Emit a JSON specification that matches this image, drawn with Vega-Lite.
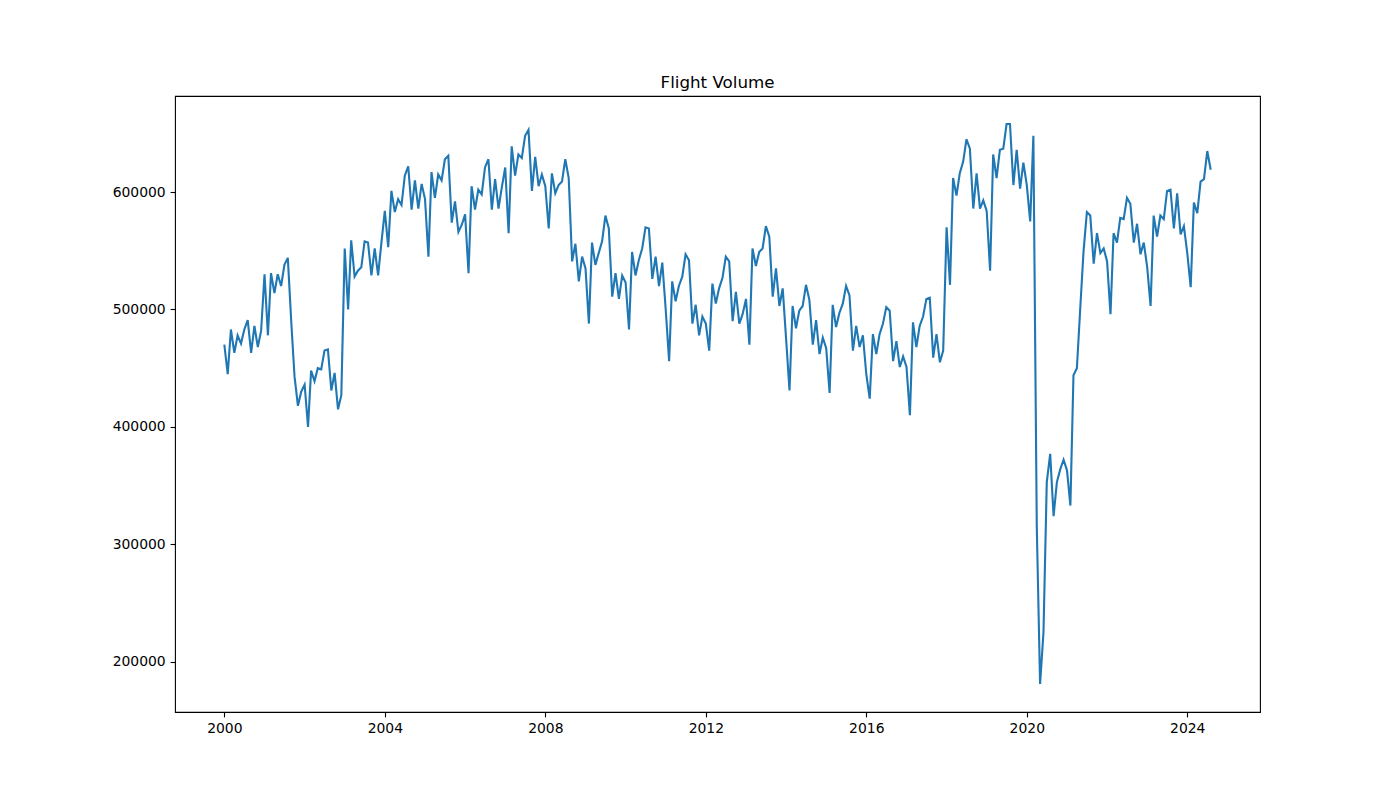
{
  "$schema": "https://vega.github.io/schema/vega-lite/v6.json",
  "autosize": {"type": "none"},
  "width": 1085,
  "height": 616,
  "padding": {"left": 175, "top": 96, "right": 140, "bottom": 88},
  "background": "white",
  "title": {"text": "Flight Volume", "font": "DejaVu Sans", "fontSize": 16.7, "fontWeight": "normal", "color": "black", "offset": 4},
  "data": {"values": [
    {"date":"2000-01-01","flights":470000},{"date":"2000-02-01","flights":445000},{"date":"2000-03-01","flights":483000},{"date":"2000-04-01","flights":463000},{"date":"2000-05-01","flights":478000},{"date":"2000-06-01","flights":471000},{"date":"2000-07-01","flights":483000},{"date":"2000-08-01","flights":491000},{"date":"2000-09-01","flights":463000},{"date":"2000-10-01","flights":486000},{"date":"2000-11-01","flights":468000},{"date":"2000-12-01","flights":482000},
    {"date":"2001-01-01","flights":530000},{"date":"2001-02-01","flights":478000},{"date":"2001-03-01","flights":531000},{"date":"2001-04-01","flights":514000},{"date":"2001-05-01","flights":530000},{"date":"2001-06-01","flights":520000},{"date":"2001-07-01","flights":538000},{"date":"2001-08-01","flights":544000},{"date":"2001-09-01","flights":490000},{"date":"2001-10-01","flights":443000},{"date":"2001-11-01","flights":418000},{"date":"2001-12-01","flights":430000},
    {"date":"2002-01-01","flights":436000},{"date":"2002-02-01","flights":400000},{"date":"2002-03-01","flights":448000},{"date":"2002-04-01","flights":439000},{"date":"2002-05-01","flights":450000},{"date":"2002-06-01","flights":449000},{"date":"2002-07-01","flights":465000},{"date":"2002-08-01","flights":466000},{"date":"2002-09-01","flights":431000},{"date":"2002-10-01","flights":446000},{"date":"2002-11-01","flights":415000},{"date":"2002-12-01","flights":427000},
    {"date":"2003-01-01","flights":552000},{"date":"2003-02-01","flights":500000},{"date":"2003-03-01","flights":559000},{"date":"2003-04-01","flights":528000},{"date":"2003-05-01","flights":533000},{"date":"2003-06-01","flights":536000},{"date":"2003-07-01","flights":558000},{"date":"2003-08-01","flights":557000},{"date":"2003-09-01","flights":529000},{"date":"2003-10-01","flights":552000},{"date":"2003-11-01","flights":529000},{"date":"2003-12-01","flights":557000},
    {"date":"2004-01-01","flights":584000},{"date":"2004-02-01","flights":553000},{"date":"2004-03-01","flights":601000},{"date":"2004-04-01","flights":583000},{"date":"2004-05-01","flights":594000},{"date":"2004-06-01","flights":589000},{"date":"2004-07-01","flights":614000},{"date":"2004-08-01","flights":622000},{"date":"2004-09-01","flights":585000},{"date":"2004-10-01","flights":610000},{"date":"2004-11-01","flights":586000},{"date":"2004-12-01","flights":607000},
    {"date":"2005-01-01","flights":594000},{"date":"2005-02-01","flights":545000},{"date":"2005-03-01","flights":617000},{"date":"2005-04-01","flights":595000},{"date":"2005-05-01","flights":615000},{"date":"2005-06-01","flights":610000},{"date":"2005-07-01","flights":628000},{"date":"2005-08-01","flights":631000},{"date":"2005-09-01","flights":574000},{"date":"2005-10-01","flights":592000},{"date":"2005-11-01","flights":566000},{"date":"2005-12-01","flights":572000},
    {"date":"2006-01-01","flights":581000},{"date":"2006-02-01","flights":531000},{"date":"2006-03-01","flights":605000},{"date":"2006-04-01","flights":585000},{"date":"2006-05-01","flights":602000},{"date":"2006-06-01","flights":598000},{"date":"2006-07-01","flights":621000},{"date":"2006-08-01","flights":628000},{"date":"2006-09-01","flights":585000},{"date":"2006-10-01","flights":611000},{"date":"2006-11-01","flights":586000},{"date":"2006-12-01","flights":604000},
    {"date":"2007-01-01","flights":621000},{"date":"2007-02-01","flights":565000},{"date":"2007-03-01","flights":639000},{"date":"2007-04-01","flights":614000},{"date":"2007-05-01","flights":632000},{"date":"2007-06-01","flights":629000},{"date":"2007-07-01","flights":648000},{"date":"2007-08-01","flights":653000},{"date":"2007-09-01","flights":601000},{"date":"2007-10-01","flights":630000},{"date":"2007-11-01","flights":605000},{"date":"2007-12-01","flights":615000},
    {"date":"2008-01-01","flights":605000},{"date":"2008-02-01","flights":569000},{"date":"2008-03-01","flights":616000},{"date":"2008-04-01","flights":599000},{"date":"2008-05-01","flights":606000},{"date":"2008-06-01","flights":609000},{"date":"2008-07-01","flights":628000},{"date":"2008-08-01","flights":612000},{"date":"2008-09-01","flights":541000},{"date":"2008-10-01","flights":556000},{"date":"2008-11-01","flights":524000},{"date":"2008-12-01","flights":545000},
    {"date":"2009-01-01","flights":535000},{"date":"2009-02-01","flights":488000},{"date":"2009-03-01","flights":557000},{"date":"2009-04-01","flights":538000},{"date":"2009-05-01","flights":548000},{"date":"2009-06-01","flights":558000},{"date":"2009-07-01","flights":580000},{"date":"2009-08-01","flights":569000},{"date":"2009-09-01","flights":511000},{"date":"2009-10-01","flights":531000},{"date":"2009-11-01","flights":509000},{"date":"2009-12-01","flights":529000},
    {"date":"2010-01-01","flights":523000},{"date":"2010-02-01","flights":483000},{"date":"2010-03-01","flights":549000},{"date":"2010-04-01","flights":529000},{"date":"2010-05-01","flights":542000},{"date":"2010-06-01","flights":552000},{"date":"2010-07-01","flights":570000},{"date":"2010-08-01","flights":569000},{"date":"2010-09-01","flights":526000},{"date":"2010-10-01","flights":545000},{"date":"2010-11-01","flights":520000},{"date":"2010-12-01","flights":540000},
    {"date":"2011-01-01","flights":500000},{"date":"2011-02-01","flights":456000},{"date":"2011-03-01","flights":524000},{"date":"2011-04-01","flights":507000},{"date":"2011-05-01","flights":520000},{"date":"2011-06-01","flights":528000},{"date":"2011-07-01","flights":547000},{"date":"2011-08-01","flights":542000},{"date":"2011-09-01","flights":488000},{"date":"2011-10-01","flights":504000},{"date":"2011-11-01","flights":478000},{"date":"2011-12-01","flights":494000},
    {"date":"2012-01-01","flights":488000},{"date":"2012-02-01","flights":465000},{"date":"2012-03-01","flights":522000},{"date":"2012-04-01","flights":505000},{"date":"2012-05-01","flights":518000},{"date":"2012-06-01","flights":527000},{"date":"2012-07-01","flights":545000},{"date":"2012-08-01","flights":541000},{"date":"2012-09-01","flights":490000},{"date":"2012-10-01","flights":515000},{"date":"2012-11-01","flights":488000},{"date":"2012-12-01","flights":496000},
    {"date":"2013-01-01","flights":509000},{"date":"2013-02-01","flights":470000},{"date":"2013-03-01","flights":552000},{"date":"2013-04-01","flights":537000},{"date":"2013-05-01","flights":549000},{"date":"2013-06-01","flights":552000},{"date":"2013-07-01","flights":571000},{"date":"2013-08-01","flights":562000},{"date":"2013-09-01","flights":511000},{"date":"2013-10-01","flights":535000},{"date":"2013-11-01","flights":503000},{"date":"2013-12-01","flights":518000},
    {"date":"2014-01-01","flights":475000},{"date":"2014-02-01","flights":431000},{"date":"2014-03-01","flights":503000},{"date":"2014-04-01","flights":484000},{"date":"2014-05-01","flights":499000},{"date":"2014-06-01","flights":503000},{"date":"2014-07-01","flights":521000},{"date":"2014-08-01","flights":508000},{"date":"2014-09-01","flights":470000},{"date":"2014-10-01","flights":491000},{"date":"2014-11-01","flights":462000},{"date":"2014-12-01","flights":476000},
    {"date":"2015-01-01","flights":467000},{"date":"2015-02-01","flights":429000},{"date":"2015-03-01","flights":504000},{"date":"2015-04-01","flights":485000},{"date":"2015-05-01","flights":497000},{"date":"2015-06-01","flights":505000},{"date":"2015-07-01","flights":520000},{"date":"2015-08-01","flights":512000},{"date":"2015-09-01","flights":465000},{"date":"2015-10-01","flights":486000},{"date":"2015-11-01","flights":468000},{"date":"2015-12-01","flights":478000},
    {"date":"2016-01-01","flights":445000},{"date":"2016-02-01","flights":424000},{"date":"2016-03-01","flights":479000},{"date":"2016-04-01","flights":462000},{"date":"2016-05-01","flights":479000},{"date":"2016-06-01","flights":488000},{"date":"2016-07-01","flights":502000},{"date":"2016-08-01","flights":499000},{"date":"2016-09-01","flights":456000},{"date":"2016-10-01","flights":473000},{"date":"2016-11-01","flights":451000},{"date":"2016-12-01","flights":460000},
    {"date":"2017-01-01","flights":451000},{"date":"2017-02-01","flights":410000},{"date":"2017-03-01","flights":489000},{"date":"2017-04-01","flights":468000},{"date":"2017-05-01","flights":486000},{"date":"2017-06-01","flights":494000},{"date":"2017-07-01","flights":509000},{"date":"2017-08-01","flights":510000},{"date":"2017-09-01","flights":459000},{"date":"2017-10-01","flights":479000},{"date":"2017-11-01","flights":455000},{"date":"2017-12-01","flights":465000},
    {"date":"2018-01-01","flights":570000},{"date":"2018-02-01","flights":521000},{"date":"2018-03-01","flights":612000},{"date":"2018-04-01","flights":597000},{"date":"2018-05-01","flights":616000},{"date":"2018-06-01","flights":626000},{"date":"2018-07-01","flights":645000},{"date":"2018-08-01","flights":637000},{"date":"2018-09-01","flights":586000},{"date":"2018-10-01","flights":616000},{"date":"2018-11-01","flights":586000},{"date":"2018-12-01","flights":593000},
    {"date":"2019-01-01","flights":584000},{"date":"2019-02-01","flights":533000},{"date":"2019-03-01","flights":632000},{"date":"2019-04-01","flights":612000},{"date":"2019-05-01","flights":636000},{"date":"2019-06-01","flights":637000},{"date":"2019-07-01","flights":658000},{"date":"2019-08-01","flights":658000},{"date":"2019-09-01","flights":606000},{"date":"2019-10-01","flights":636000},{"date":"2019-11-01","flights":603000},{"date":"2019-12-01","flights":625000},
    {"date":"2020-01-01","flights":606000},{"date":"2020-02-01","flights":575000},{"date":"2020-03-01","flights":648000},{"date":"2020-04-01","flights":315000},{"date":"2020-05-01","flights":181000},{"date":"2020-06-01","flights":225000},{"date":"2020-07-01","flights":353000},{"date":"2020-08-01","flights":377000},{"date":"2020-09-01","flights":324000},{"date":"2020-10-01","flights":353000},{"date":"2020-11-01","flights":364000},{"date":"2020-12-01","flights":372000},
    {"date":"2021-01-01","flights":363000},{"date":"2021-02-01","flights":333000},{"date":"2021-03-01","flights":444000},{"date":"2021-04-01","flights":450000},{"date":"2021-05-01","flights":500000},{"date":"2021-06-01","flights":550000},{"date":"2021-07-01","flights":583000},{"date":"2021-08-01","flights":580000},{"date":"2021-09-01","flights":539000},{"date":"2021-10-01","flights":565000},{"date":"2021-11-01","flights":548000},{"date":"2021-12-01","flights":552000},
    {"date":"2022-01-01","flights":541000},{"date":"2022-02-01","flights":496000},{"date":"2022-03-01","flights":565000},{"date":"2022-04-01","flights":557000},{"date":"2022-05-01","flights":578000},{"date":"2022-06-01","flights":577000},{"date":"2022-07-01","flights":595000},{"date":"2022-08-01","flights":590000},{"date":"2022-09-01","flights":557000},{"date":"2022-10-01","flights":573000},{"date":"2022-11-01","flights":547000},{"date":"2022-12-01","flights":557000},
    {"date":"2023-01-01","flights":536000},{"date":"2023-02-01","flights":503000},{"date":"2023-03-01","flights":580000},{"date":"2023-04-01","flights":562000},{"date":"2023-05-01","flights":580000},{"date":"2023-06-01","flights":577000},{"date":"2023-07-01","flights":601000},{"date":"2023-08-01","flights":602000},{"date":"2023-09-01","flights":569000},{"date":"2023-10-01","flights":599000},{"date":"2023-11-01","flights":564000},{"date":"2023-12-01","flights":571000},
    {"date":"2024-01-01","flights":548000},{"date":"2024-02-01","flights":519000},{"date":"2024-03-01","flights":591000},{"date":"2024-04-01","flights":582000},{"date":"2024-05-01","flights":609000},{"date":"2024-06-01","flights":611000},{"date":"2024-07-01","flights":635000},{"date":"2024-08-01","flights":619000}
  ]},
  "mark": {"type": "line", "color": "#1f77b4", "strokeWidth": 2.1, "clip": true},
  "encoding": {
    "x": {
      "field": "date", "type": "temporal",
      "scale": {"type": "utc", "domain": [{"year": 1998, "month": 10, "date": 9, "utc": true}, {"year": 2025, "month": 10, "date": 24, "utc": true}], "nice": false},
      "axis": {
        "values": [{"year": 2000, "month": 1, "date": 1, "utc": true}, {"year": 2004, "month": 1, "date": 1, "utc": true}, {"year": 2008, "month": 1, "date": 1, "utc": true}, {"year": 2012, "month": 1, "date": 1, "utc": true}, {"year": 2016, "month": 1, "date": 1, "utc": true}, {"year": 2020, "month": 1, "date": 1, "utc": true}, {"year": 2024, "month": 1, "date": 1, "utc": true}],
        "format": "%Y", "formatType": "utc", "labelFlush": false, "labelOverlap": false
      }
    },
    "y": {
      "field": "flights", "type": "quantitative",
      "scale": {"domain": [157150, 681850], "nice": false, "zero": false},
      "axis": {"values": [200000, 300000, 400000, 500000, 600000], "format": "d"}
    }
  },
  "config": {
    "view": {"stroke": "black", "strokeWidth": 1.1},
    "axis": {
      "title": null, "grid": false, "domain": false,
      "labelFont": "DejaVu Sans", "labelFontSize": 13.9, "labelColor": "black",
      "tickColor": "black", "tickSize": 4.9, "tickWidth": 1.1, "labelPadding": 4.9
    }
  }
}
